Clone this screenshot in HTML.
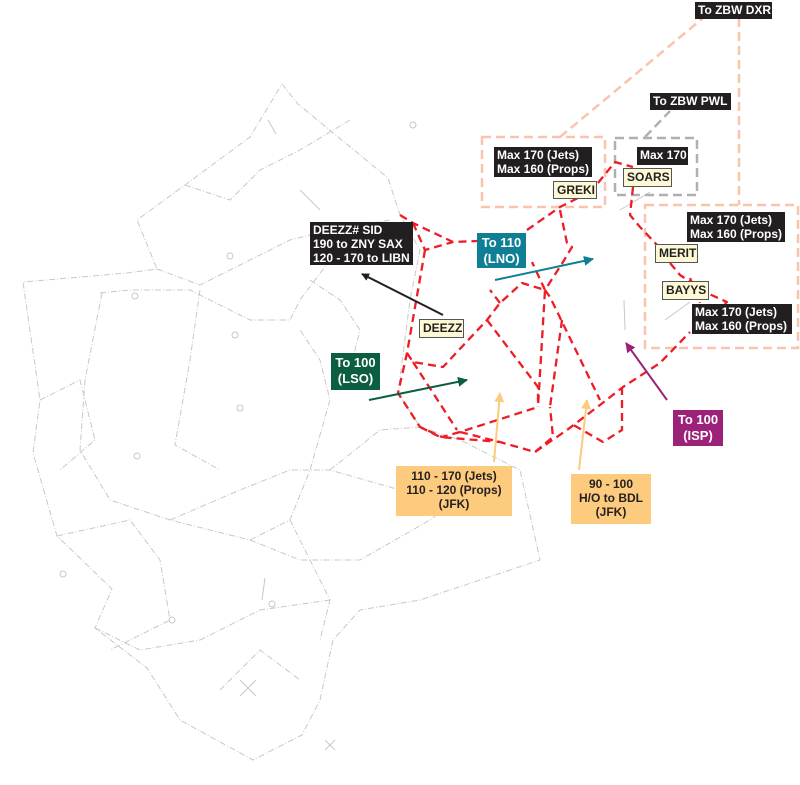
<!DOCTYPE html>
<html><head><meta charset="utf-8"><style>
html,body{margin:0;padding:0;background:#fff;}
#c{position:relative;width:800px;height:785px;overflow:hidden;font-family:"Liberation Sans",Arial,sans-serif;}
.lb{position:absolute;font-weight:bold;font-size:12px;line-height:14px;box-sizing:border-box;white-space:nowrap;}
.bk{background:#231f20;color:#fff;padding:1px 3px;}
.yl{background:#fdf8d6;color:#231f20;border:1px solid #555;padding:1px 3px;}
.cl{color:#fff;text-align:center;font-size:13px;line-height:16px;padding-top:2px;}
.or{background:#fdcb7d;color:#231f20;text-align:center;font-size:12px;line-height:14px;padding-top:3px;}
</style></head><body><div id="c">
<svg width="800" height="785" style="position:absolute;left:0;top:0">
<defs>
<marker id="ak" markerWidth="8" markerHeight="8" refX="7" refY="4" orient="auto" markerUnits="userSpaceOnUse"><path d="M0,0L8,4L0,8Z" fill="#231f20"/></marker>
<marker id="at" markerWidth="10" markerHeight="10" refX="9" refY="5" orient="auto" markerUnits="userSpaceOnUse"><path d="M0,0L10,5L0,10Z" fill="#0e7f94"/></marker>
<marker id="ag" markerWidth="10" markerHeight="10" refX="9" refY="5" orient="auto" markerUnits="userSpaceOnUse"><path d="M0,0L10,5L0,10Z" fill="#0b5e40"/></marker>
<marker id="ap" markerWidth="10" markerHeight="10" refX="9" refY="5" orient="auto" markerUnits="userSpaceOnUse"><path d="M0,0L10,5L0,10Z" fill="#9c2279"/></marker>
<marker id="ao" markerWidth="10" markerHeight="10" refX="9" refY="5" orient="auto" markerUnits="userSpaceOnUse"><path d="M0,0L10,5L0,10Z" fill="#fdcb7d"/></marker>
</defs>
<g fill="none" stroke="#c8c8c8" stroke-width="1" stroke-dasharray="6,2,1,2">
<polyline points="282,84 298,104 388,178 400,215 420,250 410,300 398,393 420,427 460,440 520,470 540,560 480,580 420,600 360,610 333,640 320,700 302,735 253,760 180,720 147,668 95,628 112,589 57,536 33,453 40,400 23,282 127,273 157,269 137,220 185,185 250,137 282,84"/>
<polyline points="185,185 230,200 260,170 300,150 350,120"/>
<polyline points="157,269 200,285 290,240 330,230 390,220"/>
<polyline points="100,293 130,290 190,290 250,320 290,320 300,300 330,260"/>
<polyline points="102,293 85,380 80,450 110,500 170,520 250,540 290,520 310,470 330,400 320,360 300,330"/>
<polyline points="200,290 190,360 175,445 220,470"/>
<polyline points="40,400 80,380 95,440 60,470"/>
<polyline points="57,536 130,520 160,560 170,620 110,650"/>
<polyline points="170,520 240,490 290,470 330,470 400,490"/>
<polyline points="290,520 310,560 330,600 320,640"/>
<polyline points="250,540 300,560 360,560 430,520 470,490"/>
<polyline points="200,640 260,610 330,600"/>
<polyline points="220,690 260,650 300,680"/>
<polyline points="330,470 380,430 420,427"/>
<polyline points="310,280 340,300 360,330 350,370"/>
<polyline points="95,628 140,650 200,640"/>
</g>
<g fill="none" stroke="#c8c8c8" stroke-width="1">
<line x1="268" y1="120" x2="276" y2="134"/><line x1="300" y1="190" x2="320" y2="210"/><line x1="240" y1="680" x2="256" y2="696"/><line x1="256" y1="680" x2="240" y2="696"/>
<line x1="325" y1="740" x2="335" y2="750"/><line x1="335" y1="740" x2="325" y2="750"/><line x1="265" y1="578" x2="262" y2="600"/>
<circle cx="230" cy="256" r="3"/><circle cx="235" cy="335" r="3"/><circle cx="135" cy="296" r="3"/><circle cx="137" cy="456" r="3"/><circle cx="63" cy="574" r="3"/><circle cx="172" cy="620" r="3"/><circle cx="272" cy="604" r="3"/><circle cx="240" cy="408" r="3"/><circle cx="413" cy="125" r="3"/>
<line x1="620" y1="210" x2="650" y2="192"/><line x1="625" y1="330" x2="624" y2="300"/><line x1="665" y1="320" x2="690" y2="302"/>
</g>
<g fill="none" stroke="#fbc3ad" stroke-width="2.5" stroke-dasharray="9,5">
<rect x="482" y="137" width="123" height="70"/>
<rect x="645" y="205" width="153" height="143"/>
<line x1="560" y1="137" x2="703" y2="18"/>
<line x1="739" y1="18" x2="739" y2="205"/>
</g>
<g fill="none" stroke="#b0b0b0" stroke-width="2.5" stroke-dasharray="9,5">
<rect x="615" y="138" width="82" height="57"/>
<line x1="645" y1="137" x2="670" y2="111"/>
</g>
<g fill="none" stroke="#ee1c25" stroke-width="2.3" stroke-dasharray="8,5" stroke-linejoin="round">
<polyline points="400,215 413,223 453,242 477,241"/>
<polyline points="413,223 425,250 453,242"/>
<polyline points="425,250 407,353 398,393 420,427 442,437 460,432 538,407"/>
<polyline points="407,353 413,362 443,367 487,320 500,303 522,283 545,290 538,407"/>
<polyline points="413,362 457,430"/>
<polyline points="487,320 538,387 538,407"/>
<polyline points="500,303 490,290"/>
<polyline points="527,230 560,207 578,198"/>
<polyline points="598,183 615,162 633,167"/>
<polyline points="560,210 567,243 572,247 563,262 545,290 532,262"/>
<polyline points="545,290 550,297 600,400"/>
<polyline points="562,320 550,407"/>
<polyline points="460,432 500,442 535,452 553,437 550,407"/>
<polyline points="420,427 440,437 500,442"/>
<polyline points="535,452 567,430 600,405 623,387 660,363 690,332"/>
<polyline points="622,387 622,430 603,442 570,423"/>
<polyline points="633,187 630,215 640,227 657,245"/>
<polyline points="670,263 680,275 707,293 727,302 720,307"/>
<polyline points="690,278 700,303"/>
</g>
<line x1="443" y1="315" x2="362" y2="274" stroke="#231f20" stroke-width="2" marker-end="url(#ak)"/>
<line x1="495" y1="280" x2="593" y2="259" stroke="#0e7f94" stroke-width="2" marker-end="url(#at)"/>
<line x1="369" y1="400" x2="467" y2="380" stroke="#0b5e40" stroke-width="2" marker-end="url(#ag)"/>
<line x1="667" y1="400" x2="626" y2="343" stroke="#9c2279" stroke-width="2" marker-end="url(#ap)"/>
<line x1="494" y1="462" x2="500" y2="393" stroke="#fdcb7d" stroke-width="2" marker-end="url(#ao)"/>
<line x1="579" y1="470" x2="587" y2="400" stroke="#fdcb7d" stroke-width="2" marker-end="url(#ao)"/>
</svg>
<div class="lb bk" style="left:695px;top:2px;width:77px;height:17px;">To ZBW DXR</div>
<div class="lb bk" style="left:650px;top:93px;width:81px;height:17px;">To ZBW PWL</div>
<div class="lb bk" style="left:494px;top:147px;width:98px;height:30px;">Max 170 (Jets)<br>Max 160 (Props)</div>
<div class="lb bk" style="left:637px;top:147px;width:51px;height:18px;">Max 170</div>
<div class="lb bk" style="left:687px;top:212px;width:98px;height:30px;">Max 170 (Jets)<br>Max 160 (Props)</div>
<div class="lb bk" style="left:692px;top:304px;width:100px;height:30px;">Max 170 (Jets)<br>Max 160 (Props)</div>
<div class="lb bk" style="left:310px;top:222px;width:103px;height:43px;">DEEZZ# SID<br>190 to ZNY SAX<br>120 - 170 to LIBN</div>
<div class="lb yl" style="left:553px;top:181px;width:44px;height:18px;">GREKI</div>
<div class="lb yl" style="left:623px;top:168px;width:49px;height:19px;">SOARS</div>
<div class="lb yl" style="left:655px;top:244px;width:43px;height:19px;">MERIT</div>
<div class="lb yl" style="left:662px;top:281px;width:47px;height:19px;">BAYYS</div>
<div class="lb yl" style="left:419px;top:319px;width:45px;height:19px;">DEEZZ</div>
<div class="lb cl" style="left:477px;top:233px;width:49px;height:35px;background:#0e7f94;">To 110<br>(LNO)</div>
<div class="lb cl" style="left:331px;top:353px;width:49px;height:37px;background:#0b5e40;">To 100<br>(LSO)</div>
<div class="lb cl" style="left:673px;top:410px;width:50px;height:36px;background:#9c2279;">To 100<br>(ISP)</div>
<div class="lb or" style="left:396px;top:466px;width:116px;height:50px;">110 - 170 (Jets)<br>110 - 120 (Props)<br>(JFK)</div>
<div class="lb or" style="left:571px;top:474px;width:80px;height:50px;">90 - 100<br>H/O to BDL<br>(JFK)</div>
</div></body></html>
